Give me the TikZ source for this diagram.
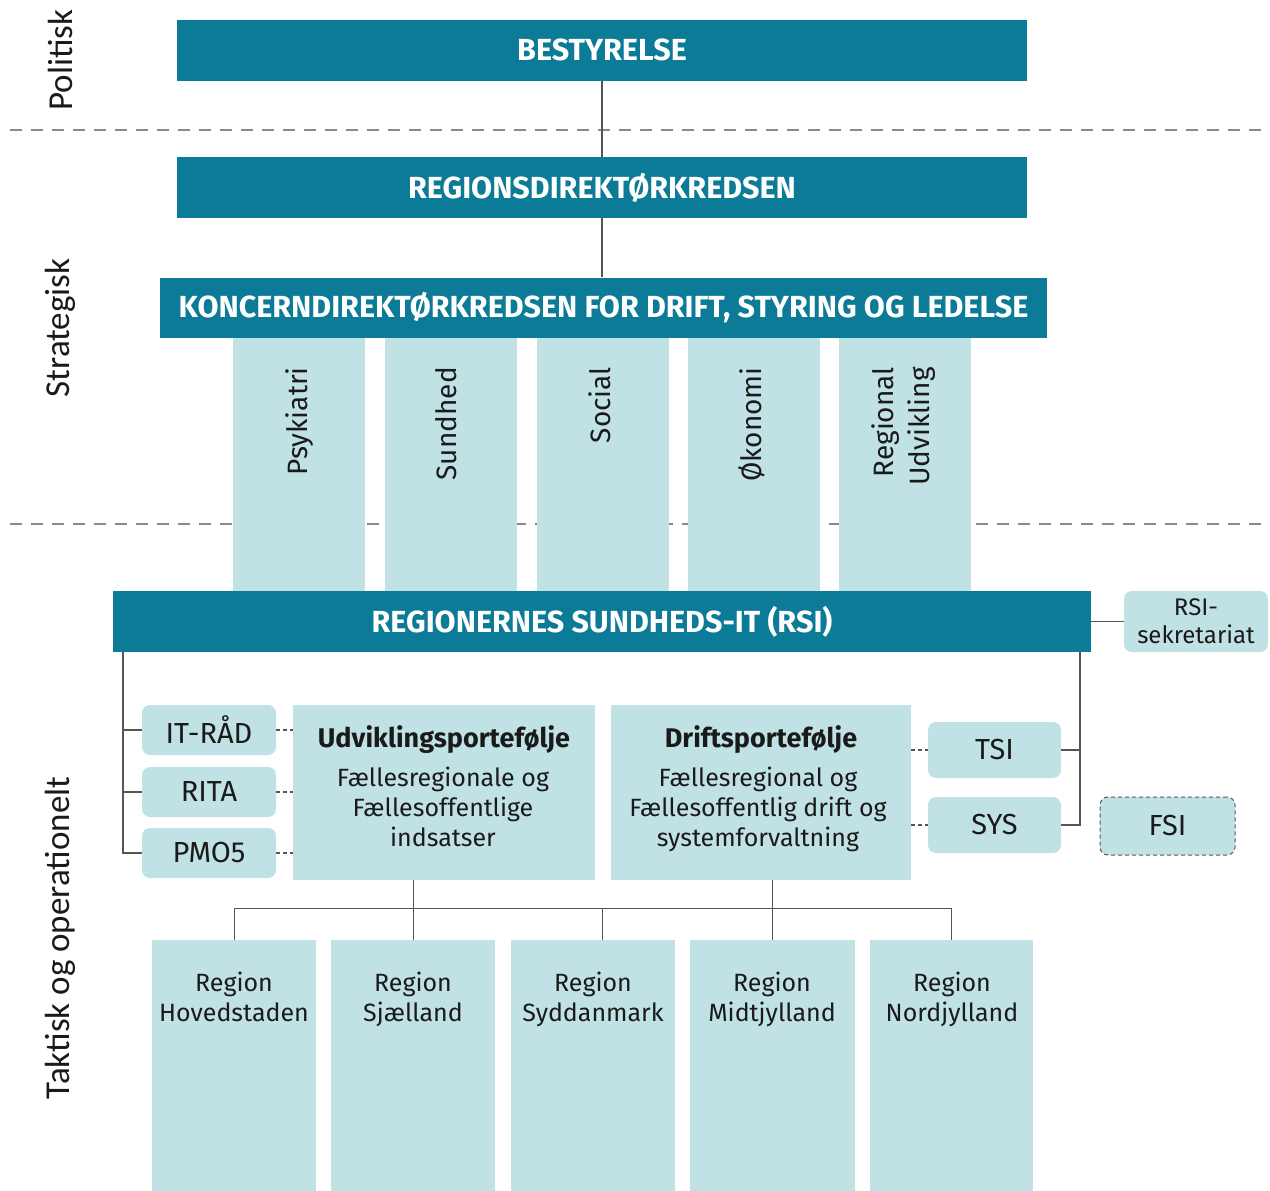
\documentclass[tikz,border=0pt]{standalone}
\usepackage{fontspec}
\setmainfont{Fira Sans}
\newfontfamily\labfont{Carlito}
\usetikzlibrary{calc}
\definecolor{teal1}{HTML}{0C7B97}
\definecolor{light1}{HTML}{C1E2E5}
\definecolor{txt}{HTML}{1A1A1A}
\definecolor{sepgray}{HTML}{8A8A8A}
\definecolor{linegray}{HTML}{555555}
\begin{document}
\begin{tikzpicture}[x=1pt,y=-1pt,
  darkbox/.style={fill=teal1, text=white, inner sep=0pt, font=\bfseries\fontsize{30.5}{35}\selectfont},
  lightbox/.style={fill=light1, inner sep=0pt},
  smallbox/.style={fill=light1, rounded corners=8pt, inner sep=0pt, text=txt, font=\fontsize{29}{34}\selectfont},
  collab/.style={rotate=90, anchor=east, text=txt, font=\fontsize{28}{36}\selectfont, align=right, inner sep=0pt},
  sidelab/.style={rotate=90, text=txt, font=\labfont\fontsize{35}{40}\selectfont},
  bodytxt/.style={text=txt, align=center, inner sep=0pt, anchor=north, font=\fontsize{25}{30}\selectfont},
  titletxt/.style={text=txt, inner sep=0pt, anchor=base, font=\bfseries\fontsize{27}{32}\selectfont},
  sepline/.style={draw=sepgray, line width=1.3pt, dash pattern=on 12pt off 9pt},
  conn/.style={draw=linegray, line width=1.2pt},
  dconn/.style={draw=linegray, line width=1.1pt, dash pattern=on 4pt off 3pt}
]
\useasboundingbox (0,0) rectangle (1270,1191);

% separators
\draw[sepline] (10,130) -- (1265,130);
\draw[sepline] (10,524) -- (1265,524);

% side labels
\node[sidelab] (lpol) at (60,60) {Politisk};
\node[sidelab] (lstr) at (60,328) {Strategisk};
\node[sidelab] (ltak) at (60,938) {Taktisk og operationelt};

% top boxes
\node[darkbox, minimum width=850pt, minimum height=61pt] (best) at (602,50) {BESTYRELSE};
\node[darkbox, minimum width=850pt, minimum height=61pt] (regdir) at (602,187.5) {REGIONSDIREKTØRKREDSEN};
\draw[conn] (best.south) -- (regdir.north);

% columns
\node[lightbox, minimum width=132pt, minimum height=254pt] (c1) at (299,464) {};
\node[lightbox, minimum width=132pt, minimum height=254pt] (c2) at (451,464) {};
\node[lightbox, minimum width=132pt, minimum height=254pt] (c3) at (602.5,464) {};
\node[lightbox, minimum width=132pt, minimum height=254pt] (c4) at (753.5,464) {};
\node[lightbox, minimum width=132pt, minimum height=254pt] (c5) at (904.5,464) {};
\node[collab] (t1) at (300,367) {Psykiatri};
\node[collab] (t2) at (446,367) {Sundhed};
\node[collab] (t3) at (600,367) {Social};
\node[collab] (t4) at (752,367) {Økonomi};
\node[collab] (t5) at (904,367) {Regional\\Udvikling};

\node[darkbox, minimum width=887pt, minimum height=60pt] (konc) at (603.5,307.5) {KONCERNDIREKTØRKREDSEN FOR DRIFT, STYRING OG LEDELSE};
\draw[conn] (regdir.south) -- (regdir.south |- konc.north);

% RSI
\node[darkbox, minimum width=978pt, minimum height=61pt] (rsi) at (602,621.5) {REGIONERNES SUNDHEDS-IT (RSI)};
\node[smallbox, minimum width=144pt, minimum height=61pt, align=center, font=\fontsize{24}{28}\selectfont] (sek) at (1196,621.5) {RSI-\\sekretariat};
\draw[conn] (rsi.east) -- (sek.west);

% left small boxes
\node[smallbox, minimum width=134pt, minimum height=50pt] (itrad) at (209,730) {IT-RÅD};
\node[smallbox, minimum width=134pt, minimum height=50pt] (rita) at (209,792) {RITA};
\node[smallbox, minimum width=134pt, minimum height=50pt] (pmo) at (209,853) {PMO5};
\coordinate (lb) at (123,652);
\draw[conn] (lb) |- (pmo.west);
\draw[conn] (itrad.west) -- (itrad.west -| lb);
\draw[conn] (rita.west) -- (rita.west -| lb);

% portfolios
\node[lightbox, minimum width=302pt, minimum height=175pt] (udv) at (444,792.5) {};
\node[lightbox, minimum width=300pt, minimum height=175pt] (drift) at (761,792.5) {};
\node[titletxt] (udvt) at (444,747) {Udviklingsportefølje};
\node[bodytxt] (udvb) at (443,765) {\strut Fællesregionale og\\Fællesoffentlige\\indsatser};
\node[titletxt] (driftt) at (761,747) {Driftsportefølje};
\node[bodytxt] (driftb) at (758,765) {\strut Fællesregional og\\Fællesoffentlig drift og\\systemforvaltning};

\draw[dconn] (itrad.east) -- (itrad.east -| udv.west);
\draw[dconn] (rita.east) -- (rita.east -| udv.west);
\draw[dconn] (pmo.east) -- (pmo.east -| udv.west);

% right small boxes
\node[smallbox, minimum width=133pt, minimum height=56pt] (tsi) at (994.5,750) {TSI};
\node[smallbox, minimum width=133pt, minimum height=56pt] (sys) at (994.5,825) {SYS};
\node[smallbox, minimum width=135pt, minimum height=58pt, draw=linegray, line width=1pt, dash pattern=on 4pt off 3pt] (fsi) at (1167.5,826) {FSI};
\draw[dconn] (tsi.west -| drift.east) -- (tsi.west);
\draw[dconn] (sys.west -| drift.east) -- (sys.west);
\coordinate (rb) at (1080,652);
\draw[conn] (rb) |- (sys.east);
\draw[conn] (tsi.east) -- (tsi.east -| rb);

% regions
\node[lightbox, minimum width=164pt, minimum height=251pt] (r1) at (234,1065.5) {};
\node[lightbox, minimum width=164pt, minimum height=251pt] (r2) at (413,1065.5) {};
\node[lightbox, minimum width=164pt, minimum height=251pt] (r3) at (593,1065.5) {};
\node[lightbox, minimum width=165pt, minimum height=251pt] (r4) at (772.5,1065.5) {};
\node[lightbox, minimum width=163pt, minimum height=251pt] (r5) at (951.5,1065.5) {};
\node[bodytxt] (r1t) at (234,970) {\strut Region\\Hovedstaden};
\node[bodytxt] (r2t) at (413,970) {\strut Region\\Sjælland};
\node[bodytxt] (r3t) at (593,970) {\strut Region\\Syddanmark};
\node[bodytxt] (r4t) at (772,970) {\strut Region\\Midtjylland};
\node[bodytxt] (r5t) at (952,970) {\strut Region\\Nordjylland};

\coordinate (bus) at (602,908);
\draw[conn, line width=1pt] (r1.north) -- (r1.north |- bus) -- (r5.north |- bus) -- (r5.north);
\draw[conn, line width=1pt] (udv.south -| r2.north) -- (r2.north);
\draw[conn, line width=1pt] (drift.south -| r4.north) -- (r4.north);
\draw[conn, line width=1pt] (bus) -- (bus |- r3.north);
\end{tikzpicture}
\end{document}
